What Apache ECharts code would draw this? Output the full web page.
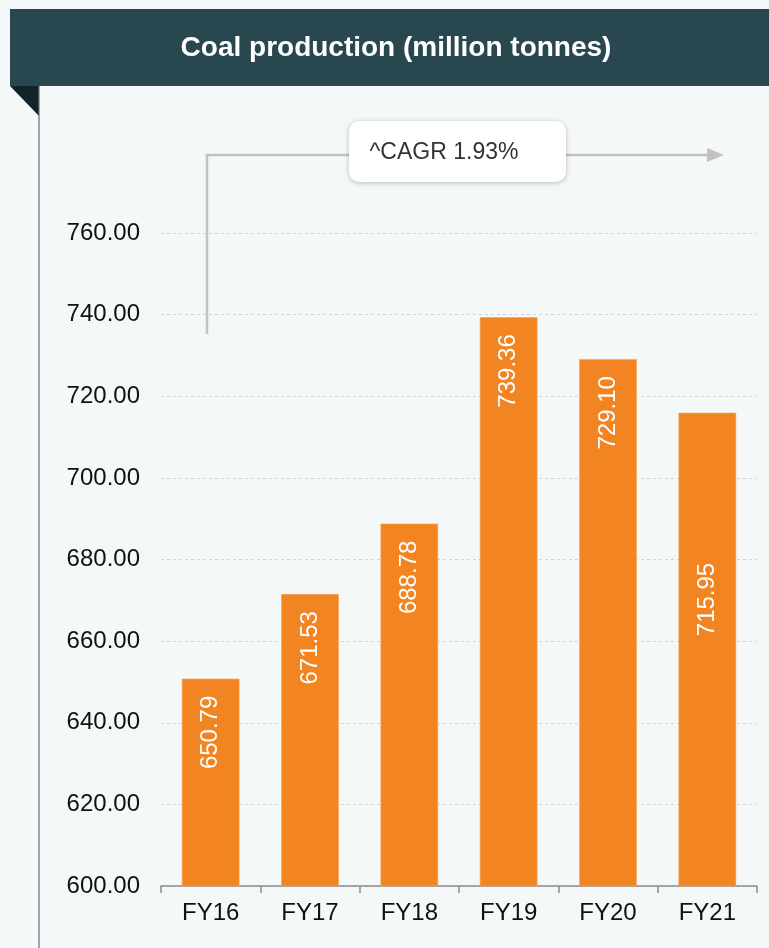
<!DOCTYPE html>
<html>
<head>
<meta charset="utf-8">
<title>Coal production</title>
<script src="https://cdn.jsdelivr.net/npm/echarts@6/dist/echarts.min.js"></script>
<style>
  html, body { margin: 0; padding: 0; background: #f5f8f9; }
  #chart { width: 769px; height: 948px; }
</style>
</head>
<body>
<div id="chart"></div>
<script>
// Fiscal years and coal production (million tonnes)
const categories = ['FY16', 'FY17', 'FY18', 'FY19', 'FY20', 'FY21'];
const production = [650.79, 671.53, 688.78, 739.36, 729.10, 715.95];
const titleText = 'Coal production (million tonnes)';
const cagrText = '^CAGR 1.93%';

const chart = echarts.init(document.getElementById('chart'), null, { renderer: 'canvas' });

const FONT = '"Liberation Sans", Arial, sans-serif';

// The last bar carries its value label further down the column
const barData = production.map((v, i) =>
  i === production.length - 1 ? { value: v, label: { distance: 150 } } : v
);

chart.setOption({
  backgroundColor: '#f5f8f9',
  animation: false,
  grid: { left: 161, right: 12, top: 233, bottom: 62 },
  xAxis: {
    type: 'category',
    data: categories,
    axisLine: { lineStyle: { color: '#8c8c8c', width: 1.5 } },
    axisTick: { show: true, length: 7, lineStyle: { color: '#8c8c8c', width: 1.5 } },
    axisLabel: { color: '#111', fontSize: 24, fontFamily: FONT, margin: 15 }
  },
  yAxis: {
    type: 'value',
    min: 600,
    max: 760,
    interval: 20,
    axisLine: { show: false },
    axisTick: { show: false },
    axisLabel: {
      color: '#111', fontSize: 24, fontFamily: FONT, margin: 21,
      formatter: v => v.toFixed(2)
    },
    splitLine: { lineStyle: { color: '#cfd4d6', type: [3, 3], width: 1 } }
  },
  series: [{
    type: 'bar',
    data: barData,
    barWidth: '58%',
    itemStyle: { color: '#f28522', borderColor: '#f6a45a', borderWidth: 0.6 },
    label: {
      show: true,
      position: 'insideTop',
      distance: 17,
      rotate: 90,
      align: 'right',
      verticalAlign: 'middle',
      color: '#ffffff',
      fontSize: 24,
      fontFamily: FONT,
      formatter: p => p.value.toFixed(2)
    }
  }],
  graphic: [
    // header band
    { type: 'rect', shape: { x: 10, y: 9, width: 759, height: 77 }, style: { fill: '#29474f' }, z: 10 },
    // folded corner under the header
    { type: 'polygon', shape: { points: [[10, 86], [39, 86], [39, 116]] }, style: { fill: '#14232a' }, z: 10 },
    // left rule
    { type: 'line', shape: { x1: 39, y1: 86, x2: 39, y2: 948 }, style: { stroke: '#5f7077', lineWidth: 1.2 }, z: 10 },
    {
      type: 'text', x: 396, y: 48, z: 11,
      style: {
        text: titleText, fill: '#ffffff', font: 'bold 28px ' + FONT,
        textAlign: 'center', textVerticalAlign: 'middle'
      }
    },
    // growth arrow
    {
      type: 'polyline', z: 5,
      shape: { points: [[207, 334], [207, 155], [710, 155]] },
      style: { stroke: '#c2c2c2', lineWidth: 2.5, fill: null }
    },
    { type: 'polygon', z: 5, shape: { points: [[707, 148], [724, 155], [707, 162]] }, style: { fill: '#c2c2c2' } },
    {
      type: 'rect', z: 6,
      shape: { x: 349, y: 121, width: 217, height: 61, r: 10 },
      style: { fill: '#ffffff', shadowBlur: 5, shadowColor: 'rgba(0,0,0,0.25)', shadowOffsetY: 1 }
    },
    {
      type: 'text', x: 444, y: 153, z: 7,
      style: {
        text: cagrText, fill: '#333333', font: '23px ' + FONT,
        textAlign: 'center', textVerticalAlign: 'middle'
      }
    }
  ]
});
</script>
</body>
</html>
